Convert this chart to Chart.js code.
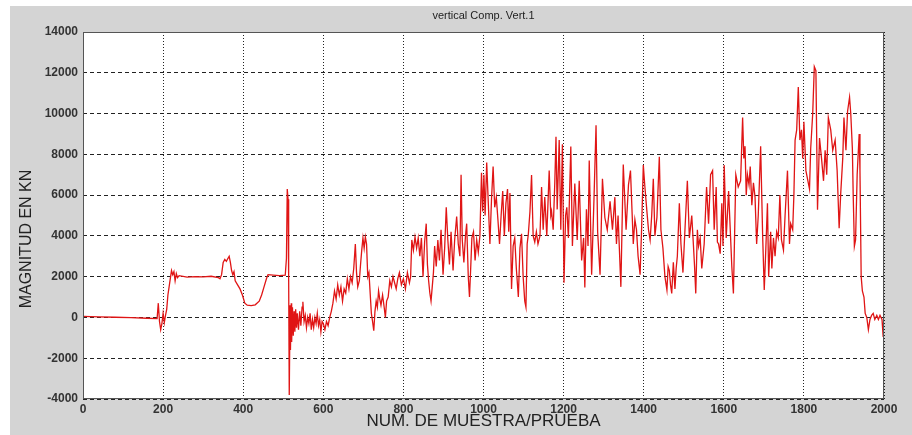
<!DOCTYPE html>
<html>
<head>
<meta charset="utf-8">
<script src="https://cdn.jsdelivr.net/npm/chart.js@4.4.0/dist/chart.umd.min.js"></script>
<style>
    html, body { margin: 0; padding: 0; background: #fff; }
    #wrap { width: 912px; height: 435px; }
</style>
</head>
<body>
<div id="wrap"><canvas id="vertChart" width="912" height="435"></canvas></div>
<script>
// Chart texts
const chartTitle = 'vertical Comp. Vert.1';
const xTitle = 'NUM. DE MUESTRA/PRUEBA';
const yTitle = 'MAGNITUD EN KN';

// Tick labels
const xTicks = [0, 200, 400, 600, 800, 1000, 1200, 1400, 1600, 1800, 2000];
const yTicks = [-4000, -2000, 0, 2000, 4000, 6000, 8000, 10000, 12000, 14000];

// Sample number
const muestra = [
    0, 40, 80, 120, 160, 185, 188, 191, 194, 197, 200, 203, 206, 209, 212, 215, 218, 221, 224, 227,
    230, 233, 236, 240, 260, 280, 300, 320, 338, 342, 346, 350, 354, 358, 362, 365, 368, 371, 374, 377,
    380, 386, 392, 398, 404, 410, 420, 430, 440, 446, 452, 458, 462, 475, 490, 505, 508, 510, 512, 513,
    514, 515, 517, 518, 520, 521, 523, 525, 527, 529, 531, 533, 535, 538, 541, 544, 547, 549, 552, 555,
    558, 561, 564, 567, 570, 573, 576, 579, 582, 585, 588, 591, 594, 597, 600, 604, 608, 612, 616, 620,
    624, 628, 632, 636, 640, 644, 648, 652, 656, 660, 664, 668, 672, 676, 680, 683, 686, 690, 693, 696,
    699, 702, 705, 708, 711, 714, 717, 720, 723, 726, 729, 732, 735, 738, 741, 744, 748, 752, 755, 758,
    762, 766, 770, 774, 778, 782, 786, 790, 795, 800, 805, 810, 815, 818, 821, 825, 829, 833, 837, 841,
    845, 849, 853, 857, 860, 863, 866, 869, 872, 875, 878, 882, 886, 890, 894, 899, 903, 907, 911, 915,
    919, 924, 928, 933, 937, 941, 944, 947, 951, 955, 958, 962, 965, 968, 971, 975, 979, 983, 987, 991,
    995, 998, 1001, 1004, 1008, 1012, 1016, 1020, 1024, 1028, 1032, 1036, 1040, 1044, 1048, 1052, 1056, 1060, 1063, 1066,
    1070, 1074, 1078, 1082, 1087, 1091, 1095, 1099, 1103, 1106, 1109, 1112, 1116, 1120, 1124, 1128, 1132, 1136, 1141, 1145,
    1149, 1153, 1158, 1164, 1168, 1170, 1174, 1178, 1181, 1184, 1189, 1193, 1197, 1201, 1205, 1208, 1212, 1218, 1222, 1228,
    1234, 1239, 1245, 1250, 1253, 1257, 1261, 1264, 1270, 1276, 1281, 1285, 1291, 1297, 1303, 1309, 1316, 1322, 1328, 1332,
    1336, 1343, 1349, 1356, 1362, 1367, 1374, 1378, 1382, 1386, 1391, 1395, 1399, 1403, 1408, 1412, 1416, 1420, 1424, 1428,
    1433, 1439, 1443, 1448, 1453, 1458, 1461, 1464, 1467, 1470, 1474, 1478, 1481, 1484, 1489, 1493, 1498, 1503, 1509, 1514,
    1520, 1524, 1527, 1530, 1534, 1537, 1541, 1545, 1551, 1557, 1562, 1567, 1572, 1576, 1581, 1584, 1587, 1591, 1595, 1598,
    1601, 1606, 1612, 1617, 1620, 1624, 1630, 1636, 1642, 1647, 1650, 1653, 1656, 1659, 1663, 1666, 1670, 1674, 1678, 1682,
    1686, 1692, 1697, 1701, 1705, 1709, 1712, 1717, 1720, 1724, 1728, 1732, 1736, 1740, 1744, 1749, 1753, 1759, 1764, 1767,
    1772, 1775, 1778, 1782, 1786, 1790, 1794, 1797, 1800, 1805, 1809, 1814, 1817, 1822, 1826, 1830, 1834, 1839, 1844, 1849,
    1853, 1857, 1861, 1867, 1872, 1878, 1883, 1888, 1892, 1897, 1900, 1905, 1909, 1914, 1917, 1921, 1923, 1926, 1929, 1933,
    1938, 1940, 1943, 1946, 1950, 1953, 1957, 1961, 1965, 1969, 1973, 1977, 1982, 1986, 1990, 1995, 1998, 2000
];

// Magnitude in kN for each sample
const magnitud = [
    50, 30, 10, -10, -40, -60, 700, -200, -600, -300, 200, -250, 100, 400, 1100, 1500, 1900, 2300, 2100, 2250,
    1800, 2150, 1950, 2050, 1980, 2000, 1990, 2020, 1950, 1900, 2100, 2700, 2850, 2750, 2900, 3000, 2700, 2300, 2100, 2250,
    1800, 1600, 1400, 1100, 700, 600, 580, 620, 800, 1100, 1500, 1900, 2100, 2080, 2050, 2080, 2900, 6300, 5800, 4000,
    2000, -3800, 600, -1600, 700, -1200, 500, -900, 300, -700, 400, -500, 200, -600, 300, -400, 500, 770, -200, 100,
    -500, 0, -300, 200, -600, -100, -500, 0, -300, 200, -400, -100, -700, -200, -300, -600, -200, -400, 0, 300,
    700, 1300, 900, 1600, 1100, 1500, 800, 1400, 1200, 1900, 1400, 2000, 1700, 2400, 3600, 2200, 1500, 1800, 2600, 3300,
    3900, 3400, 3950, 3600, 2000, 2200, 1200, 200, -200, -650, 300, 800, 500, 1300, 900, 600, 1100, 500, 0, 800,
    1000, 1800, 1500, 2000, 1700, 1400, 1900, 2200, 1600, 1900, 1400, 2200, 1700, 2000, 3800, 3300, 3950, 3400, 3900, 3000,
    3900, 2000, 3700, 4600, 2600, 1800, 1200, 800, 1500, 2200, 3500, 2500, 3800, 2800, 4300, 2100, 3400, 5400, 3800, 2600,
    4200, 2300, 3800, 4950, 3600, 3000, 7000, 3800, 2700, 4000, 4600, 2000, 1000, 2400, 3900, 4200, 2800, 3800, 3200, 4000,
    7100, 5200, 7000, 5000, 7600, 5600, 3600, 5800, 7400, 5400, 5900, 4800, 3600, 5000, 6200, 4000, 5600, 6300, 4200, 6100,
    1400, 3500, 3900, 2400, 1000, 3400, 4100, 2000, 800, 500, 3600, 4100, 5200, 6980, 4000, 3700, 4200, 3600, 4000, 6400,
    4300, 5900, 4000, 7200, 5000, 5200, 4300, 6600, 8860, 5300, 8700, 4300, 8500, 1700, 5000, 5400, 3900, 8380, 3500, 6570,
    3800, 6700, 2800, 3900, 1470, 5300, 3500, 7700, 2100, 5900, 9430, 4200, 2100, 6800, 4900, 4300, 5700, 4300, 5900, 3600,
    5000, 1500, 7500, 4300, 6500, 7200, 3600, 4800, 4300, 3000, 2100, 4500, 7470, 6400, 5200, 4300, 3800, 5000, 6800, 4000,
    4900, 7880, 4300, 3400, 2000, 1350, 2500, 2300, 1600, 1180, 2700, 1400, 2400, 3000, 5600, 3600, 2200, 4300, 6700, 3900,
    5000, 3600, 2500, 1180, 4300, 3500, 3900, 2400, 3600, 6400, 4600, 7000, 7200, 4300, 6400, 3700, 3600, 3130, 5600, 3500,
    7470, 3900, 6200, 3900, 2500, 1180, 7000, 6400, 6700, 9800, 7800, 8400, 6000, 7000, 6500, 7400, 5500, 6600, 5900, 3600,
    5000, 8400, 4000, 1350, 3400, 5600, 2000, 4200, 2400, 3900, 3000, 4200, 3900, 6000, 3800, 3300, 5000, 7200, 3600, 4600,
    4300, 6000, 8700, 9200, 11300, 8700, 9200, 7800, 9600, 7200, 6800, 6300, 8300, 10000, 12300, 12100, 5280, 8800, 7800, 6700,
    8200, 7000, 9800, 9200, 8200, 8700, 7200, 4370, 6100, 7800, 9800, 8200, 10100, 10800, 10000, 8300, 6100, 3480, 3800, 7000,
    9000, 7200, 2000, 1300, 1000, 200, 0, -600, -100, 100, 200, -100, 100, -100, 100, -100, -960, 400
];

// Plot box edges measured on the picture
const plotLeft = 83, plotRight = 884, plotTop = 32, plotBottom = 399;

// Grey figure background, white axes area, frame and titles
const figureBackground = {
    id: 'figureBackground',
    beforeDraw(chart) {
        const ctx = chart.ctx;
        const a = chart.chartArea;
        ctx.save();
        ctx.fillStyle = '#ffffff';
        ctx.fillRect(0, 0, chart.width, chart.height);
        ctx.fillStyle = '#d4d4d4';
        ctx.fillRect(10, 6, chart.width - 10, chart.height - 6);
        ctx.fillStyle = '#ffffff';
        ctx.fillRect(a.left, a.top, a.right - a.left, a.bottom - a.top);
        ctx.restore();
    },
    afterDraw(chart) {
        const ctx = chart.ctx;
        const a = chart.chartArea;
        ctx.save();
        ctx.strokeStyle = '#555';
        ctx.lineWidth = 1;
        ctx.strokeRect(a.left + 0.5, a.top + 0.5, a.right - a.left - 1, a.bottom - a.top - 1);

        // titles
        ctx.fillStyle = '#222';
        ctx.textAlign = 'center';
        ctx.textBaseline = 'middle';
        const cx = (a.left + a.right) / 2;
        ctx.font = '11px "Liberation Sans", Arial, sans-serif';
        ctx.fillText(chartTitle, cx, 16);
        ctx.font = '17px "Liberation Sans", Arial, sans-serif';
        ctx.fillText(xTitle, cx, 421);
        ctx.font = '16px "Liberation Sans", Arial, sans-serif';
        ctx.translate(27, 239);
        ctx.rotate(-Math.PI / 2);
        ctx.fillText(yTitle, 0, 0);
        ctx.restore();
    }
};

const points = muestra.map((m, i) => ({ x: m, y: magnitud[i] }));

const tickFont = { family: '"Liberation Sans", Arial, sans-serif', size: 12, weight: 'bold' };

new Chart(document.getElementById('vertChart'), {
    type: 'scatter',
    data: {
        datasets: [{
            data: points,
            showLine: true,
            borderColor: '#e01515',
            borderWidth: 1.3,
            pointRadius: 0,
            tension: 0
        }]
    },
    options: {
        responsive: false,
        animation: false,
        devicePixelRatio: 1,
        layout: {
            padding: { left: 0, right: 912 - plotRight, top: plotTop, bottom: 435 - plotBottom - 20 }
        },
        plugins: {
            legend: { display: false },
            tooltip: { enabled: false }
        },
        scales: {
            x: {
                type: 'linear',
                min: 0,
                max: 2000,
                afterFit: s => { s.height = 20; },
                afterBuildTicks: s => { s.ticks = xTicks.map(v => ({ value: v })); },
                grid: { color: '#222', drawTicks: false, lineWidth: 1 },
                border: { display: false, dash: [1, 2] },
                ticks: { font: tickFont, color: '#333', padding: 3, maxRotation: 0, callback: v => String(v) }
            },
            y: {
                type: 'linear',
                min: -4000,
                max: 14000,
                afterFit: s => { s.width = plotLeft; },
                afterBuildTicks: s => { s.ticks = yTicks.map(v => ({ value: v })); },
                grid: { color: '#222', drawTicks: false, lineWidth: 1 },
                border: { display: false, dash: [4, 3] },
                ticks: { font: tickFont, color: '#333', padding: 5, callback: v => String(v) }
            }
        }
    },
    plugins: [figureBackground]
});
</script>
</body>
</html>
